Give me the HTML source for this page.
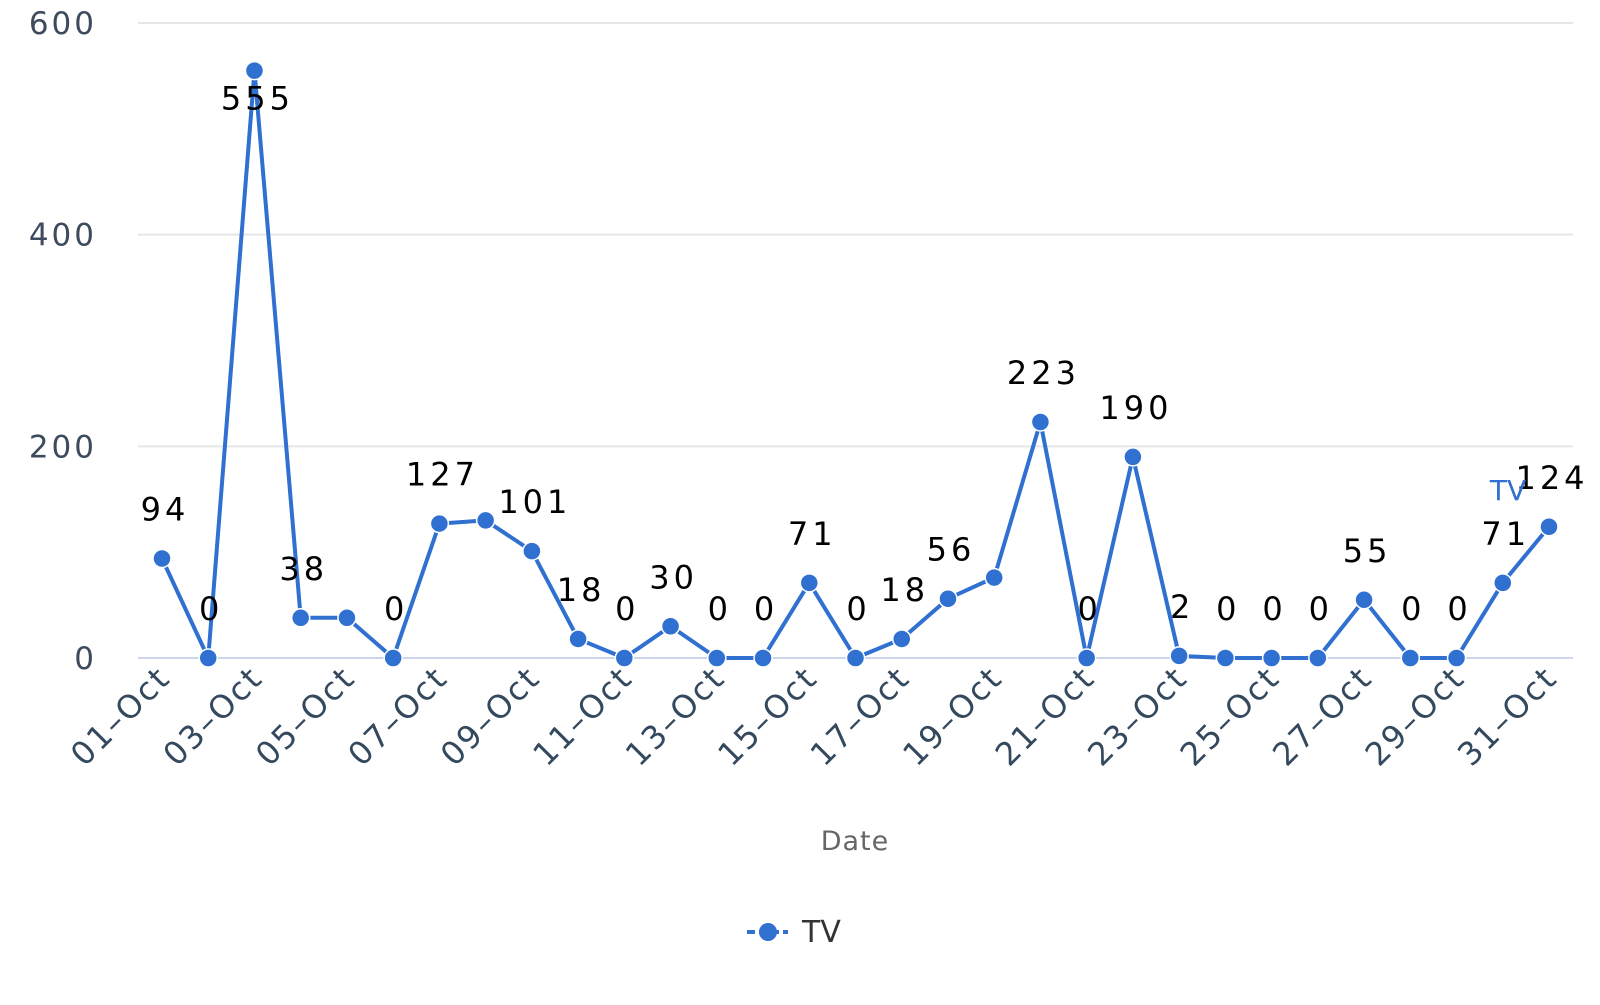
<!DOCTYPE html>
<html><head><meta charset="utf-8"><style>
body{margin:0;background:#fff;}
svg text{font-family:"DejaVu Sans","Liberation Sans",sans-serif;}
</style></head><body>
<svg id="chart" width="1600" height="1000" xmlns="http://www.w3.org/2000/svg">
<g id="grid"></g>
<g id="yaxis"></g>
<g id="xaxis"></g>
<g id="series"></g>
<g id="labels"></g>
<text x="855" y="850" font-size="27" fill="#666" text-anchor="middle" letter-spacing="1">Date</text>
<text x="1508" y="500" font-size="28" fill="#3070d0" text-anchor="middle">TV</text>
<g>
<line x1="747" y1="932" x2="788" y2="932" stroke="#3070d0" stroke-width="4" stroke-dasharray="8,4"/>
<circle cx="768" cy="932" r="9" fill="#3070d0"/>
<text x="802" y="942" font-size="30" fill="#333">TV</text>
</g>
</svg>
<script>
const categories=[];for(let d=1;d<=31;d++)categories.push((d<10?'0':'')+d+'–Oct');
const tvValues=[94,0,555,38,38,0,127,130,101,18,0,30,0,0,71,0,18,56,76,223,0,190,2,0,0,0,55,0,0,71,124];
const shownLabels=[94,0,555,38,null,0,127,null,101,18,0,30,0,0,71,0,18,56,null,223,0,190,2,0,0,0,55,0,0,71,124];
const yTicks=[0,200,400,600];
const NS='http://www.w3.org/2000/svg';
const x=i=>162+i*(1549-162)/30;
const y=v=>658-v*(658-23)/600;
function mk(t,a,p){const e=document.createElementNS(NS,t);for(const k in a)e.setAttribute(k,a[k]);p.appendChild(e);return e;}
const grid=document.getElementById('grid'),ya=document.getElementById('yaxis'),xa=document.getElementById('xaxis'),se=document.getElementById('series'),lb=document.getElementById('labels');
yTicks.forEach(t=>{
 const l=mk('line',{x1:138,x2:1573,y1:y(t),y2:y(t),stroke:t===0?'#ccd6eb':'#e6e6e6','stroke-width':2},grid);
 
 
 const tx=mk('text',{x:97,y:y(t)+11,'font-size':31,fill:'#3d4b5c','text-anchor':'end','letter-spacing':3},ya);
 tx.textContent=t;
 
 
});
categories.forEach((c,i)=>{
 if(i%2)return;
 const ax=x(i)+10, ay=680;
 const tx=mk('text',{x:ax,y:ay,'font-size':32,fill:'#34495e','text-anchor':'end','letter-spacing':2,transform:`rotate(-45 ${ax} ${ay})`},xa);
 tx.textContent=c;
 
 
});
const pl=mk('polyline',{points:tvValues.map((v,i)=>x(i)+','+y(v)).join(' '),fill:'none',stroke:'#3070d0','stroke-width':4,'stroke-linejoin':'round'},se);


tvValues.forEach((v,i)=>{
 const c=mk('circle',{cx:x(i),cy:y(v),r:9,fill:'#3070d0',stroke:'#fff','stroke-width':1.5},se);
 
 
 const s=shownLabels[i];
 if(s===null)return;
 let ty=y(v)-38;
 if(ty<40) ty=y(v)+39;
 const t=mk('text',{x:x(i)+3,y:ty,'font-size':32,fill:'#000','text-anchor':'middle','letter-spacing':4},lb);
 t.textContent=s;
 
 
});
</script>
</body></html>
